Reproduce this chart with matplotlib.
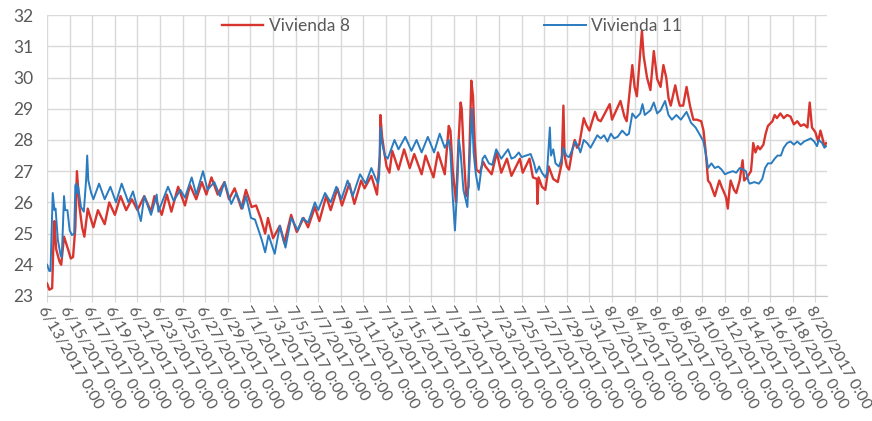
import numpy as np
import pandas as pd
import matplotlib
matplotlib.use('Agg')
import matplotlib.pyplot as plt

plt.rcParams['font.family'] = ['Lato', 'DejaVu Sans']

# Data (days after 6/13/2017 0:00, temperature)
START = pd.Timestamp('2017-06-13')

v8_days = [0.0, 0.2, 0.45, 0.6, 0.65, 0.8, 1.1, 1.25, 1.5, 1.85, 2.1, 2.3, 2.5, 2.64, 2.85, 3.1, 3.3,
           3.6, 4.1, 4.5, 5.1, 5.5, 6.0, 6.5, 7.0, 7.5, 8.0, 8.6, 9.2, 9.5, 10.15, 10.6, 11.0, 11.6,
           12.2, 12.65, 13.2, 13.7, 14.1, 14.55, 15.1, 15.7, 16.1, 16.6, 17.2, 17.6, 18.1, 18.5, 18.9,
           19.3, 19.55, 20.0, 20.6, 21.0, 21.6, 22.1, 22.7, 23.1, 23.7, 24.1, 24.7, 25.1, 25.7, 26.1,
           26.75, 27.2, 27.8, 28.1, 28.7, 29.2, 29.45, 29.5, 29.65, 29.85, 30.05, 30.3, 30.55, 31.1,
           31.6, 32.1, 32.5, 33.15, 33.5, 34.2, 34.6, 35.2, 35.55, 35.7, 35.9, 36.05, 36.2, 36.4, 36.6,
           36.7, 36.9, 37.1, 37.3, 37.55, 37.7, 37.85, 38.0, 38.3, 38.6, 38.8, 39.35, 39.8, 40.2, 40.7,
           41.1, 41.85, 42.1, 42.7, 43.0, 43.35, 43.4, 43.5, 43.6, 43.8, 44.1, 44.4, 44.8, 45.2, 45.55,
           45.7, 45.8, 46.0, 46.2, 46.5, 46.7, 46.9, 47.1, 47.5, 47.7, 48.0, 48.5, 48.75, 49.0, 49.8,
           50.0, 50.75, 51.1, 51.3, 51.8, 52.0, 52.2, 52.65, 52.8, 53.1, 53.4, 53.7, 54.0, 54.3, 54.55,
           54.8, 55.0, 55.2, 55.6, 55.85, 56.0, 56.3, 56.6, 56.9, 57.2, 57.5, 57.9, 58.1, 58.3, 58.5,
           58.7, 58.9, 59.1, 59.3, 59.5, 59.7, 60.0, 60.1, 60.25, 60.4, 60.5, 60.8, 61.0, 61.3, 61.56,
           61.7, 61.95, 62.3, 62.4, 62.5, 62.7, 62.9, 63.1, 63.4, 63.6, 63.8, 64.2, 64.4, 64.6, 64.9,
           65.2, 65.5, 65.8, 66.1, 66.4, 66.7, 67.0, 67.3, 67.5, 67.7, 68.0, 68.25, 68.45, 68.6, 68.8,
           68.95]
v8_vals = [23.4, 23.2, 23.25, 25.2, 25.4, 24.5, 24.1, 24.0, 24.9, 24.5, 24.2, 24.25, 25.2, 27.0, 25.9,
           25.2, 24.9, 25.8, 25.2, 25.75, 25.3, 26.0, 25.6, 26.2, 25.75, 26.1, 25.75, 26.2, 25.7, 26.2,
           25.6, 26.25, 25.7, 26.5, 25.9, 26.55, 26.1, 26.65, 26.25, 26.8, 26.25, 26.65, 26.1, 26.45,
           25.8, 26.4, 25.85, 25.9, 25.5, 25.0, 25.5, 24.85, 25.25, 24.7, 25.6, 25.05, 25.5, 25.2, 25.85,
           25.4, 26.2, 25.75, 26.45, 25.9, 26.6, 25.95, 26.7, 26.45, 26.85, 26.25, 27.5, 28.8, 28.1,
           27.6, 27.15, 26.95, 27.65, 27.05, 27.7, 27.1, 27.55, 26.9, 27.5, 26.8, 27.6, 26.9, 28.45,
           28.3, 27.05, 26.5, 26.0, 27.8, 29.2, 29.0, 27.4, 26.2, 26.5, 29.9, 29.4, 27.9, 27.05, 26.95,
           27.3, 27.15, 26.9, 27.6, 26.95, 27.4, 26.85, 27.4, 26.95, 27.4, 26.8, 26.75, 25.95, 26.8,
           26.7, 26.5, 26.4, 27.15, 26.75, 26.65, 27.25, 29.1, 27.5, 27.15, 27.05, 27.7, 28.0, 27.75,
           27.85, 28.7, 28.5, 28.3, 28.9, 28.65, 28.6, 29.15, 28.65, 29.25, 28.75, 28.6, 30.4, 29.7,
           29.4, 31.5, 30.7, 30.0, 29.6, 30.85, 29.95, 29.7, 30.4, 30.0, 29.35, 29.1, 29.75, 29.3, 29.1,
           29.1, 29.7, 29.1, 28.65, 28.65, 28.6, 28.3, 27.6, 26.7, 26.6, 26.4, 26.2, 26.45, 26.7, 26.5,
           26.25, 26.15, 25.8, 26.4, 26.7, 26.4, 26.3, 26.7, 27.35, 26.7, 26.8, 27.0, 27.4, 27.9, 27.6,
           27.8, 27.7, 27.85, 28.2, 28.45, 28.6, 28.8, 28.7, 28.85, 28.7, 28.8, 28.75, 28.5, 28.6,
           28.45, 28.5, 28.4, 29.2, 28.4, 28.25, 27.95, 28.3, 28.1, 27.8, 27.9]

v11_days = [0.0, 0.2, 0.3, 0.4, 0.5, 0.65, 0.75, 0.95, 1.2, 1.3, 1.5, 1.6, 1.8, 2.0, 2.2, 2.4, 2.5, 2.6,
            2.7, 2.75, 3.0, 3.25, 3.45, 3.55, 3.65, 3.9, 4.1, 4.6, 5.1, 5.6, 6.1, 6.6, 7.2, 7.6, 8.3,
            8.6, 9.2, 9.7, 9.85, 10.7, 11.2, 11.8, 12.2, 12.8, 13.2, 13.8, 14.2, 14.8, 15.3, 15.7, 16.3,
            16.75, 17.3, 17.6, 18.05, 18.4, 19.0, 19.3, 19.6, 20.15, 20.6, 21.1, 21.6, 22.2, 22.6, 23.1,
            23.7, 24.0, 24.6, 25.1, 25.6, 26.05, 26.6, 27.05, 27.7, 28.2, 28.7, 29.1, 29.3, 29.4, 29.5,
            29.65, 29.9, 30.15, 30.75, 31.1, 31.7, 32.25, 32.7, 33.15, 33.7, 34.25, 34.75, 35.2, 35.55,
            35.7, 35.9, 36.1, 36.3, 36.45, 36.6, 36.85, 37.2, 37.4, 37.6, 37.75, 37.95, 38.2, 38.55,
            38.75, 39.1, 39.4, 39.75, 40.2, 40.8, 41.1, 41.4, 41.75, 42.0, 42.8, 43.1, 43.3, 43.55, 43.8,
            44.1, 44.25, 44.5, 44.6, 44.8, 45.0, 45.3, 45.5, 45.7, 45.95, 46.2, 46.5, 46.75, 47.0, 47.2,
            47.5, 47.8, 48.1, 48.4, 48.7, 49.0, 49.3, 49.6, 49.9, 50.2, 50.5, 50.9, 51.3, 51.5, 51.8,
            52.1, 52.5, 52.7, 52.9, 53.4, 53.7, 54.0, 54.3, 54.7, 55.0, 55.3, 55.7, 56.1, 56.6, 57.0,
            57.4, 57.8, 58.1, 58.35, 58.5, 58.8, 59.1, 59.4, 59.7, 60.0, 60.3, 60.7, 61.0, 61.3, 61.6,
            61.85, 62.1, 62.2, 62.6, 63.0, 63.3, 63.55, 63.8, 64.1, 64.4, 64.65, 64.95, 65.2, 65.5,
            65.8, 66.1, 66.4, 66.7, 67.0, 67.3, 67.6, 67.9, 68.15, 68.3, 68.6, 68.8, 68.95]
v11_vals = [24.0, 23.8, 23.8, 25.1, 26.3, 25.75, 25.8, 24.8, 24.3, 24.25, 26.2, 25.75, 25.75, 25.1,
            24.95, 25.0, 26.55, 26.6, 26.3, 26.5, 25.85, 25.7, 26.7, 27.5, 26.7, 26.3, 26.1, 26.6,
            26.1, 26.5, 26.0, 26.6, 26.0, 26.35, 25.4, 26.2, 25.6, 26.25, 25.7, 26.5, 26.05, 26.4,
            26.15, 26.8, 26.25, 27.0, 26.4, 26.65, 26.2, 26.65, 25.95, 26.3, 25.8, 26.2, 25.5, 25.45,
            24.8, 24.4, 24.95, 24.35, 25.25, 24.55, 25.5, 25.1, 25.5, 25.35, 26.0, 25.75, 26.3, 26.0,
            26.5, 26.1, 26.7, 26.2, 26.9, 26.6, 27.1, 26.75, 26.6, 26.9, 28.4, 27.9, 27.5, 27.4, 28.0,
            27.7, 28.1, 27.65, 28.0, 27.6, 28.1, 27.6, 28.2, 27.75, 28.0, 27.6, 26.2, 25.1, 26.5, 28.0,
            27.6, 26.4, 25.85, 27.4, 29.0, 27.6, 26.9, 26.4, 27.4, 27.5, 27.25, 27.2, 27.7, 27.4, 27.7,
            27.4, 27.45, 27.6, 27.45, 27.55, 27.25, 26.95, 27.15, 26.95, 26.8, 26.95, 28.4, 27.5, 27.7,
            27.25, 27.15, 27.35, 27.75, 27.5, 27.45, 27.7, 27.95, 27.8, 27.6, 28.0, 27.9, 27.75, 27.95,
            28.15, 28.05, 28.15, 27.95, 28.2, 28.05, 28.1, 28.3, 28.15, 28.2, 28.85, 28.7, 28.85, 29.15,
            28.8, 28.95, 29.2, 28.85, 28.95, 29.25, 28.8, 28.65, 28.8, 28.65, 28.9, 28.55, 28.4, 28.15,
            27.95, 27.45, 27.1, 27.25, 27.1, 27.15, 27.05, 26.9, 26.95, 27.0, 26.95, 27.1, 27.05, 27.0,
            26.65, 26.6, 26.65, 26.6, 26.75, 27.1, 27.25, 27.25, 27.4, 27.5, 27.5, 27.75, 27.9, 27.95,
            27.85, 27.95, 27.85, 27.95, 28.0, 28.05, 27.95, 27.8, 28.0, 27.9, 27.75, 27.8]

N_DAYS = 69
Y_TICKS = list(range(23, 33))

RED = '#d9352f'
BLUE = '#2a7bbf'
GRAY = '#595959'
GRID = '#d9d9d9'

t8 = START + pd.to_timedelta(v8_days, unit='D')
t11 = START + pd.to_timedelta(v11_days, unit='D')

fig = plt.figure(figsize=(8.72, 4.21), dpi=100)
ax = fig.add_axes([0.054, 0.297, 0.894, 0.667])

ax.plot(t8, v8_vals, color=RED, lw=1.7, label='Vivienda 8', zorder=3)
ax.plot(t11, v11_vals, color=BLUE, lw=1.4, label='Vivienda 11', zorder=4)

ax.set_xlim(START, START + pd.Timedelta(days=N_DAYS))
ax.set_ylim(23, 32)

ticks = pd.date_range(START, START + pd.Timedelta(days=68), freq='2D')
ax.set_xticks(ticks)
ax.set_xticklabels(['{}/{}/{} 0:00'.format(t.month, t.day, t.year) for t in ticks],
                   rotation=-60, ha='left', va='top', rotation_mode='anchor',
                   fontsize=11.5, color=GRAY)
ax.set_yticks(Y_TICKS)
ax.set_yticklabels([str(v) for v in Y_TICKS], fontsize=12.5, color=GRAY)

ax.grid(True, color=GRID, lw=1.0)
ax.set_axisbelow(True)
for s in ['top', 'right', 'left']:
    ax.spines[s].set_visible(False)
ax.spines['bottom'].set_color('#c8c8c8')
ax.tick_params(axis='y', length=0, pad=10)
ax.tick_params(axis='x', length=4, color=GRID, pad=2)

leg = ax.legend(ncol=2, loc='upper center', bbox_to_anchor=(0.519, 1.015), frameon=False,
                columnspacing=11.2, handlelength=2.4, handletextpad=0.3,
                fontsize=12.5, borderaxespad=0)
for txt in leg.get_texts():
    txt.set_color(GRAY)

fig.savefig('out.png', dpi=100)
